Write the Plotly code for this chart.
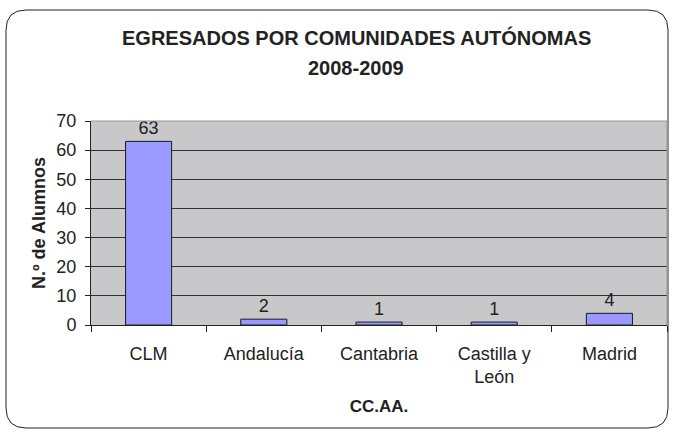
import plotly.graph_objects as go

categories = ["CLM", "Andalucía", "Cantabria", "Castilla y<br>León", "Madrid"]
values = [63, 2, 1, 1, 4]
y_ticks = [0, 10, 20, 30, 40, 50, 60, 70]

W, H = 674, 433
L, R, T, B = 91, 667, 121, 325

def px(x):
    return (x - L) / (R - L)

def py(y):
    return (B - y) / (B - T)

fig = go.Figure(go.Bar(
    x=categories, y=values,
    marker=dict(color="#9999FF", line=dict(color="#1a1a1a", width=1)),
    width=0.4,
    text=[str(v) for v in values], textposition="outside",
    textfont=dict(family="Liberation Sans, Arial", size=18, color="#222"),
    cliponaxis=False,
))

# rounded border
x0, x1, y0, y1, r = 6, 668, 10, 428, 20
path = (f"M {px(x0+r)},{py(y0)} L {px(x1-r)},{py(y0)} Q {px(x1)},{py(y0)} {px(x1)},{py(y0+r)} "
        f"L {px(x1)},{py(y1-r)} Q {px(x1)},{py(y1)} {px(x1-r)},{py(y1)} "
        f"L {px(x0+r)},{py(y1)} Q {px(x0)},{py(y1)} {px(x0)},{py(y1-r)} "
        f"L {px(x0)},{py(y0+r)} Q {px(x0)},{py(y0)} {px(x0+r)},{py(y0)} Z")

fig.update_layout(
    width=W, height=H,
    margin=dict(l=L, r=W - R, t=T, b=H - B, autoexpand=False),
    paper_bgcolor="white", plot_bgcolor="#C8C8CA",
    font=dict(family="Liberation Sans, Arial", size=18, color="#222"),
    showlegend=False,
    xaxis=dict(type="category", tickson="boundaries", ticks="outside", ticklen=6,
               tickcolor="#222", showline=True, linecolor="#222", linewidth=1,
               showgrid=False, ticklabelstandoff=12,
               title=dict(text="<b>CC.AA.</b>", font=dict(size=17), standoff=14)),
    yaxis=dict(range=[0, 70], tickvals=y_ticks, ticks="outside", ticklen=5,
               tickcolor="#222", showline=True, linecolor="#222", linewidth=1,
               showgrid=True, gridcolor="#333", gridwidth=1, zeroline=False,
               ticklabelstandoff=5,
               title=dict(text="<b>N.º de Alumnos</b>", font=dict(size=18), standoff=6)),
    annotations=[
        dict(text="<b>EGRESADOS POR COMUNIDADES AUTÓNOMAS</b>", xref="paper", yref="paper",
             x=px(356), y=py(38), xanchor="center", yanchor="middle", showarrow=False,
             font=dict(size=20, color="#222")),
        dict(text="<b>2008-2009</b>", xref="paper", yref="paper",
             x=px(356), y=py(68), xanchor="center", yanchor="middle", showarrow=False,
             font=dict(size=20, color="#222")),
    ],
    shapes=[
        dict(type="path", xref="paper", yref="paper", path=path,
             line=dict(color="#222", width=1), fillcolor="rgba(0,0,0,0)", layer="below"),
        dict(type="path", xref="paper", yref="paper", path="M 0,1 L 1,1 L 1,0",
             line=dict(color="#999", width=1), layer="above"),
    ],
)

fig.write_html("out.html", config={"displayModeBar": False},
               post_script="document.body.style.margin='0';")
